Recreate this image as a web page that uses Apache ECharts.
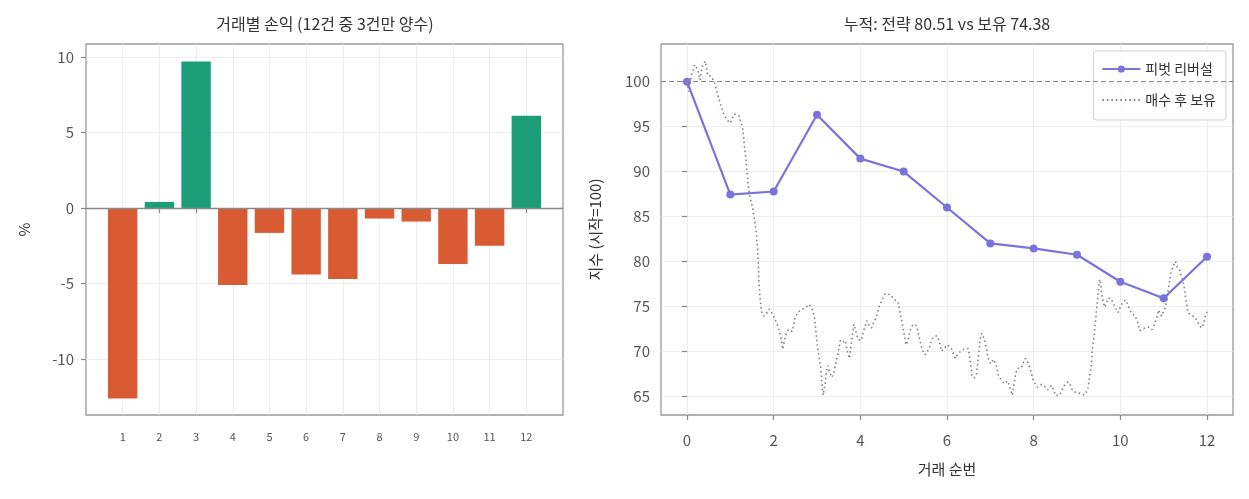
<!DOCTYPE html>
<html>
<head>
<meta charset="utf-8">
<script src="https://cdn.jsdelivr.net/npm/echarts@6/dist/echarts.min.js"></script>
<style>
  html, body { margin: 0; padding: 0; background: #fff; }
  #chart { width: 1249px; height: 499px; }
</style>
</head>
<body>
<div id="chart"></div>
<script>
// 거래별 손익 (%)
var tradeNo = [1, 2, 3, 4, 5, 6, 7, 8, 9, 10, 11, 12];
var tradePnl = [-12.6, 0.4, 9.7, -5.1, -1.65, -4.4, -4.7, -0.7, -0.9, -3.7, -2.5, 6.1];

// 누적 지수 (전략)
var stepNo = [0, 1, 2, 3, 4, 5, 6, 7, 8, 9, 10, 11, 12];
var strategyIdx = [100, 87.44, 87.78, 96.33, 91.44, 90.0, 86.0, 82.0, 81.44, 80.74, 77.74, 75.89, 80.51];

// 매수 후 보유 (x = 거래 순번 위치, y = 지수)
var holdX = [0, 0.04, 0.1, 0.18, 0.25, 0.3, 0.35, 0.42, 0.48, 0.56, 0.63, 0.7, 0.78, 0.86, 0.93, 1.0,
  1.09, 1.2, 1.28, 1.32, 1.36, 1.4, 1.45, 1.51, 1.56, 1.6, 1.63, 1.65, 1.66, 1.69, 1.72, 1.78, 1.85, 1.9,
  2.0, 2.08, 2.16, 2.21, 2.27, 2.34, 2.43, 2.5, 2.62, 2.73, 2.82, 2.88, 2.93, 2.97,
  3.01, 3.05, 3.09, 3.11, 3.14, 3.19, 3.22, 3.25, 3.29, 3.34, 3.39, 3.43, 3.49, 3.54, 3.6, 3.65, 3.7, 3.75,
  3.78, 3.82, 3.85, 3.89, 3.95, 4.02, 4.08, 4.15, 4.2, 4.26, 4.31, 4.37, 4.43, 4.49, 4.57, 4.7, 4.77, 4.87,
  4.91, 4.97, 5.01, 5.06, 5.1, 5.16, 5.21, 5.27, 5.32, 5.37, 5.42, 5.49, 5.54, 5.59, 5.66, 5.72, 5.77, 5.83,
  5.87, 5.93, 6.01, 6.1, 6.15, 6.19, 6.25, 6.34, 6.43, 6.49, 6.53, 6.55, 6.58, 6.63, 6.68, 6.72, 6.76, 6.8,
  6.84, 6.89, 6.93, 6.96, 7.01, 7.07, 7.1, 7.14, 7.18, 7.24, 7.32, 7.4, 7.44, 7.48, 7.51, 7.55, 7.59, 7.63,
  7.71, 7.75, 7.81, 7.87, 7.91, 7.95, 7.98, 8.02, 8.08, 8.18, 8.25, 8.33, 8.41, 8.47, 8.5, 8.6, 8.65, 8.71,
  8.79, 8.85, 8.9, 8.98, 9.08, 9.17, 9.21, 9.25, 9.29, 9.33, 9.35, 9.39, 9.42, 9.45, 9.48, 9.5, 9.52, 9.55,
  9.56, 9.58, 9.61, 9.64, 9.68, 9.72, 9.78, 9.83, 9.88, 9.95, 9.98, 10.05, 10.12, 10.16, 10.22, 10.28, 10.33,
  10.39, 10.45, 10.52, 10.64, 10.73, 10.79, 10.85, 10.88, 10.95, 10.98, 11.04, 11.08, 11.12, 11.16, 11.22,
  11.27, 11.32, 11.37, 11.42, 11.47, 11.5, 11.53, 11.56, 11.64, 11.72, 11.78, 11.83, 11.88, 11.93, 11.96, 12.0];
var holdY = [100, 98.9, 100.7, 101.9, 101.3, 100.2, 101.7, 102.3, 100.7, 100.6, 100, 98.7, 97.4, 96.3, 95.7, 95.4,
  96.4, 96.2, 95, 93.1, 91.3, 89.1, 87.2, 86.1, 84.6, 83.1, 81.3, 79.4, 77.6, 75.7, 74.4, 73.9, 74.3, 74.7,
  73.9, 73.0, 71.7, 70.2, 71.7, 72.4, 72.2, 73.9, 74.6, 74.8, 75.2, 74.8, 74.1, 72.5,
  70.6, 69.3, 68.0, 66.6, 65.1, 66.4, 67.9, 68.4, 67.7, 67.1, 67.6, 68.6, 69.9, 71.2, 71.0, 71.2, 70.0, 69.2,
  70.4, 71.9, 73.0, 72.3, 71.3, 71.2, 72.3, 73.4, 72.9, 72.6, 73.2, 73.8, 74.9, 75.6, 76.4, 76.3, 75.8, 75.5,
  74.5, 73.0, 71.9, 70.7, 71.2, 72.5, 72.9, 73.0, 72.4, 71.3, 70.3, 69.6, 69.9, 70.4, 71.4, 71.7, 71.7, 71.0,
  70.0, 70.3, 70.7, 70.3, 69.7, 69.2, 69.7, 70.1, 70.3, 70.3, 69.1, 68.4, 67.3, 67.0, 67.5, 69.1, 71.2, 72.0,
  71.6, 70.9, 69.7, 69.1, 68.6, 69.1, 69.1, 68.4, 67.4, 66.9, 66.4, 66.7, 66.2, 65.5, 65.1, 66.4, 67.6, 68.1,
  68.1, 68.6, 69.2, 68.7, 68.2, 67.5, 66.9, 66.5, 66.0, 66.3, 66.1, 65.7, 66.2, 65.6, 65.1, 65.1, 65.6, 66.2,
  66.6, 66.2, 65.6, 65.4, 65.3, 65.1, 64.9, 65.8, 67.1, 68.4, 70.1, 71.6, 73.0, 74.5, 76.0, 77.0, 78.0, 77.5,
  76.7, 76.0, 75.4, 74.9, 75.4, 75.9, 75.9, 75.4, 74.9, 74.3, 74.7, 75.4, 75.7, 75.3, 74.6, 74.1, 74.0,
  73.4, 72.3, 72.5, 72.7, 72.4, 73.0, 73.9, 74.6, 73.9, 74.0, 74.9, 76.0, 77.3, 78.6, 79.5,
  80.0, 79.3, 79.0, 78.2, 77.3, 76.2, 75.3, 74.3, 74.0, 73.8, 73.3, 72.8, 72.6, 73.2, 73.9, 74.38];

var leftYTicks = [-10, -5, 0, 5, 10];
var rightXTicks = [0, 2, 4, 6, 8, 10, 12];
var rightYTicks = [65, 70, 75, 80, 85, 90, 95, 100];

var FONT = '"Noto Sans CJK KR", "Noto Sans", sans-serif';
var POS_COLOR = '#1b9e77';
var NEG_COLOR = '#d95b33';
var LINE_COLOR = '#7b72dc';
var HOLD_COLOR = '#7f7f7f';

var myChart = echarts.init(document.getElementById('chart'), null, { renderer: 'canvas' });

// 막대 데이터 (양수/음수 색 구분)
var barData = [];
for (var i = 0; i < tradeNo.length; i++) {
    barData.push({
        value: [tradeNo[i], tradePnl[i]],
        itemStyle: { color: tradePnl[i] >= 0 ? POS_COLOR : NEG_COLOR }
    });
}
var holdData = [];
for (var j = 0; j < holdX.length; j++) {
    holdData.push([holdX[j], holdY[j]]);
}
var stratData = [];
for (var k = 0; k < stepNo.length; k++) {
    stratData.push([stepNo[k], strategyIdx[k]]);
}

var gridLine = { show: true, lineStyle: { color: '#e8e8e8', width: 0.8 } };

function tick(values) {
    return { show: true, length: 5, lineStyle: { color: '#888', width: 1.2 }, customValues: values };
}

var option = {
    animation: false,
    textStyle: { fontFamily: FONT },
    title: [
        {
            text: '거래별 손익 (12건 중 3건만 양수)',
            left: 325, top: 16, textAlign: 'center', padding: 0,
            textStyle: { fontFamily: FONT, fontSize: 16, fontWeight: 'normal', color: '#333' }
        },
        {
            text: '누적: 전략 80.51 vs 보유 74.38',
            left: 947, top: 16, textAlign: 'center', padding: 0,
            textStyle: { fontFamily: FONT, fontSize: 16, fontWeight: 'normal', color: '#333' }
        }
    ],
    legend: {
        data: [
            { name: '피벗 리버설' },
            { name: '매수 후 보유', itemStyle: { opacity: 0, color: 'rgba(0,0,0,0)' } }
        ],
        orient: 'vertical',
        right: 23, top: 51,
        padding: [11, 10, 13, 8],
        itemGap: 17,
        itemWidth: 38, itemHeight: 9,
        backgroundColor: 'rgba(255,255,255,0.85)',
        borderColor: '#d0d0d0', borderWidth: 1, borderRadius: 3,
        textStyle: { fontFamily: FONT, fontSize: 14, color: '#333' }
    },
    grid: [
        { left: 86, top: 44, width: 477, height: 371, show: true, borderColor: '#999', borderWidth: 1.3, backgroundColor: 'transparent' },
        { left: 661, top: 44, width: 572, height: 371, show: true, borderColor: '#999', borderWidth: 1.3, backgroundColor: 'transparent' }
    ],
    xAxis: [
        {
            gridIndex: 0, type: 'value', min: 0, max: 13,
            axisLine: { show: false },
            axisTick: tick(tradeNo),
            axisLabel: { customValues: tradeNo, fontSize: 11, color: '#555', margin: 16 },
            splitLine: gridLine
        },
        {
            gridIndex: 1, type: 'value', min: -0.6, max: 12.6,
            name: '거래 순번', nameLocation: 'middle', nameGap: 47,
            nameTextStyle: { fontFamily: FONT, fontSize: 15, color: '#333' },
            axisLine: { show: false },
            axisTick: tick(rightXTicks),
            axisLabel: { customValues: rightXTicks, fontSize: 15, color: '#555', margin: 18 },
            splitLine: gridLine
        }
    ],
    yAxis: [
        {
            gridIndex: 0, type: 'value', min: -13.7, max: 10.85,
            name: '%', nameLocation: 'middle', nameGap: 54,
            nameTextStyle: { fontFamily: FONT, fontSize: 15, color: '#333' },
            axisLine: { show: false },
            axisTick: tick(leftYTicks),
            axisLabel: { customValues: leftYTicks, fontSize: 15, color: '#555', margin: 12 },
            splitLine: gridLine
        },
        {
            gridIndex: 1, type: 'value', min: 62.9, max: 104.2,
            name: '지수 (시작=100)', nameLocation: 'middle', nameGap: 58,
            nameTextStyle: { fontFamily: FONT, fontSize: 15, color: '#333' },
            axisLine: { show: false },
            axisTick: tick(rightYTicks),
            axisLabel: { customValues: rightYTicks, fontSize: 15, color: '#555', margin: 11 },
            splitLine: gridLine
        }
    ],
    series: [
        {
            name: '거래별 손익',
            type: 'bar',
            xAxisIndex: 0, yAxisIndex: 0,
            barWidth: 29.4,
            data: barData,
            markLine: {
                silent: true, symbol: 'none', label: { show: false },
                lineStyle: { color: '#888', width: 1.3, type: 'solid' },
                data: [{ yAxis: 0 }]
            }
        },
        {
            name: '매수 후 보유',
            type: 'line',
            xAxisIndex: 1, yAxisIndex: 1,
            showSymbol: false, symbol: 'none',
            color: HOLD_COLOR,
            lineStyle: { color: HOLD_COLOR, width: 1.6, type: [1.5, 3] },
            data: holdData,
            markLine: {
                silent: true, symbol: 'none', label: { show: false },
                lineStyle: { color: '#8a8a8a', width: 1.2, type: [5, 3] },
                data: [{ yAxis: 100 }]
            },
            z: 2
        },
        {
            name: '피벗 리버설',
            type: 'line',
            xAxisIndex: 1, yAxisIndex: 1,
            symbol: 'circle', symbolSize: 8,
            color: LINE_COLOR,
            lineStyle: { color: LINE_COLOR, width: 2.2 },
            itemStyle: { color: LINE_COLOR },
            data: stratData,
            z: 3
        }
    ]
};
myChart.setOption(option);
</script>
</body>
</html>
